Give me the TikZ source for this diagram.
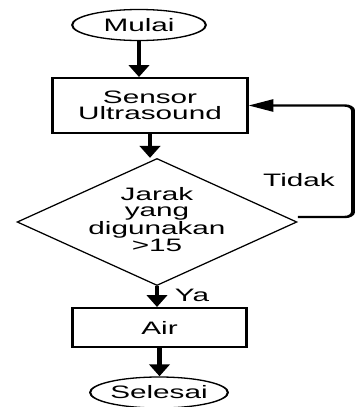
\documentclass[tikz,border=0pt]{standalone}
\usepackage{fontspec}
\setmainfont{Liberation Sans}
\usetikzlibrary{shapes.geometric,arrows.meta}
\newcommand{\mltext}[1]{\begin{tabular}{@{}c@{}}#1\end{tabular}}
\begin{document}
\begin{tikzpicture}[
  every node/.style={font=\fontsize{18}{16}\selectfont, inner sep=0pt},
  term/.style={ellipse, draw, line width=1.3pt, minimum width=81pt, minimum height=31pt},
  proc/.style={rectangle, draw, line width=1.8pt, align=center},
  dec/.style={diamond, draw, line width=1.1pt, minimum width=169.7pt, minimum height=127pt},
  flow/.style={line width=2.6pt, -{Triangle[length=12pt,width=12pt]}},
  loopflow/.style={line width=2.4pt, rounded corners=5pt, -{Triangle[length=15pt,width=12pt]}}
]
\fill[white] (0,0) rectangle (356pt,-407pt);
\useasboundingbox (0,0) rectangle (356pt,-407pt);
\begin{scope}[transform canvas={xscale=1.65}, x=0.60606pt, y=-1pt]
  \node[term] (m) at (139,25) {Mulai};
  \node[proc, minimum width=117.6pt, minimum height=55pt] (s) at (150,105.5) {Sensor\\Ultrasound};
  \node[dec] (d) at (157,222) {\smash{\raisebox{-4pt}{\mltext{Jarak\\yang\\digunakan\\>15}}}};
  \node[proc, minimum width=106pt, minimum height=39pt] (a) at (159.5,327.5) {Air};
  \node[term] (e) at (159,392.5) {Selesai};
  \coordinate (r) at (353,0);
  \draw[flow] (m.south) -- (m.south |- s.north);
  \draw[flow] (s.south) -- (s.south |- d.north);
  \draw[flow] (d.south) -- (d.south |- a.north);
  \draw[flow] (a.south) -- (a.south |- e.north);
  \draw[loopflow] ([yshift=5pt]d.east) -- ([yshift=5pt]d.east -| r) -- (s.east -| r) -- (s.east);
  \node (ya) at (192,295) {Ya};
  \node (td) at (299,180) {Tidak};
\end{scope}
\end{tikzpicture}
\end{document}
